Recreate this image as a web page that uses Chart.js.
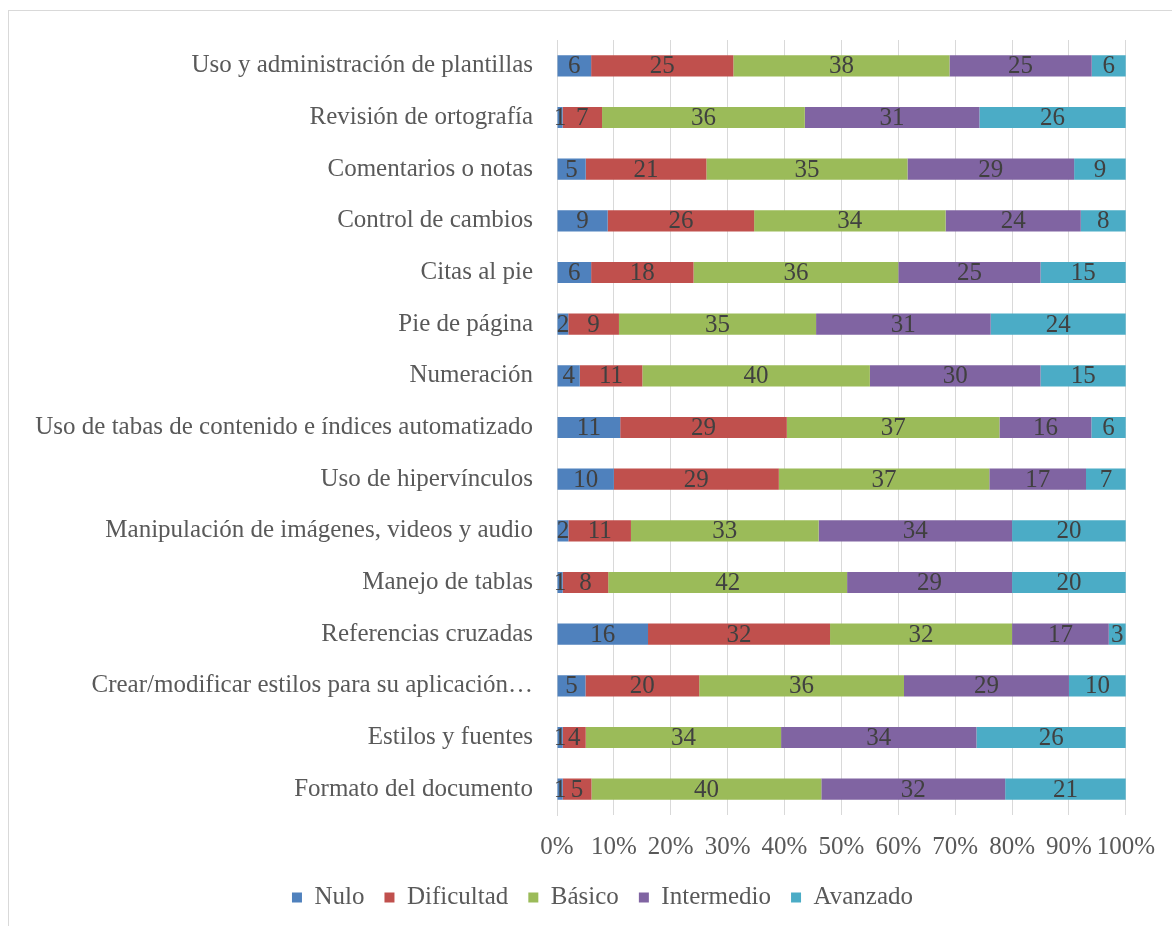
<!DOCTYPE html>
<html lang="es">
<head>
    <meta charset="UTF-8">
    <title>Nivel de manejo por función</title>
    <script src="https://cdn.jsdelivr.net/npm/chart.js"></script>
    <style>
        body { margin: 0; background: #fff; }
        .chart-container { position: relative; width: 1172px; height: 926px; }
    </style>
</head>
<body>
    <div class="chart-container">
        <canvas id="nivelChart"></canvas>
    </div>

    <script>
        // Categorías (de arriba a abajo)
        const categorias = [
            'Uso y administración de plantillas',
            'Revisión de ortografía',
            'Comentarios o notas',
            'Control de cambios',
            'Citas al pie',
            'Pie de página',
            'Numeración',
            'Uso de tabas de contenido e índices automatizado',
            'Uso de hipervínculos',
            'Manipulación de imágenes, videos y audio',
            'Manejo de tablas',
            'Referencias cruzadas',
            'Crear/modificar estilos para su aplicación…',
            'Estilos y fuentes',
            'Formato del documento'
        ];

        // Valores por nivel (mismo orden que las categorías)
        const nulo       = [6, 1, 5, 9, 6, 2, 4, 11, 10, 2, 1, 16, 5, 1, 1];
        const dificultad = [25, 7, 21, 26, 18, 9, 11, 29, 29, 11, 8, 32, 20, 4, 5];
        const basico     = [38, 36, 35, 34, 36, 35, 40, 37, 37, 33, 42, 32, 36, 34, 40];
        const intermedio = [25, 31, 29, 24, 25, 31, 30, 16, 17, 34, 29, 17, 29, 34, 32];
        const avanzado   = [6, 26, 9, 8, 15, 24, 15, 6, 7, 20, 20, 3, 10, 26, 21];

        const ticksX = [0, 10, 20, 30, 40, 50, 60, 70, 80, 90, 100];

        const series = [
            { label: 'Nulo', values: nulo, color: '#4F81BD' },
            { label: 'Dificultad', values: dificultad, color: '#C0504D' },
            { label: 'Básico', values: basico, color: '#9BBB59' },
            { label: 'Intermedio', values: intermedio, color: '#8064A2' },
            { label: 'Avanzado', values: avanzado, color: '#4BACC6' }
        ];

        // Apilado al 100%: cada fila se normaliza por su total
        const totales = categorias.map((_, i) => series.reduce((s, d) => s + d.values[i], 0));

        const datasets = series.map(s => ({
            label: s.label,
            data: s.values.map((v, i) => v / totales[i] * 100),
            raw: s.values,
            backgroundColor: s.color,
            borderWidth: 0,
            barPercentage: 0.41,
            categoryPercentage: 1
        }));

        const fuente = "'Liberation Serif', serif";
        const tam = 25;

        // Etiquetas de valor dentro de cada segmento
        const etiquetas = {
            id: 'etiquetas',
            afterDatasetsDraw(chart) {
                const ctx = chart.ctx;
                ctx.save();
                ctx.font = tam + 'px ' + fuente;
                ctx.fillStyle = '#404040';
                ctx.textAlign = 'center';
                ctx.textBaseline = 'middle';
                chart.data.datasets.forEach((ds, di) => {
                    const meta = chart.getDatasetMeta(di);
                    meta.data.forEach((bar, i) => {
                        ctx.fillText(ds.raw[i], (bar.x + bar.base) / 2, bar.y + 1);
                    });
                });
                ctx.restore();
            }
        };

        // Marco gris del área del gráfico
        const marco = {
            id: 'marco',
            beforeDraw(chart) {
                const ctx = chart.ctx;
                ctx.save();
                ctx.fillStyle = '#fff';
                ctx.fillRect(0, 0, chart.width, chart.height);
                ctx.strokeStyle = '#D9D9D9';
                ctx.lineWidth = 1;
                ctx.strokeRect(8.5, 10.5, chart.width + 10, chart.height + 10);
                ctx.restore();
            }
        };

        // Centrar la leyenda un poco más a la derecha, como en el original
        const leyendaDesplazada = {
            id: 'leyendaDesplazada',
            afterLayout(chart) {
                if (chart.legend) chart.legend.left += 76;
            }
        };

        const ctx = document.getElementById('nivelChart').getContext('2d');
        new Chart(ctx, {
            type: 'bar',
            data: { labels: categorias, datasets: datasets },
            plugins: [marco, etiquetas, leyendaDesplazada],
            options: {
                indexAxis: 'y',
                responsive: true,
                maintainAspectRatio: false,
                animation: false,
                layout: { padding: { top: 40, right: 43, bottom: 6, left: 0 } },
                scales: {
                    x: {
                        stacked: true,
                        min: 0,
                        max: 100,
                        afterBuildTicks(axis) {
                            axis.ticks = ticksX.map(v => ({ value: v }));
                        },
                        afterFit(axis) { axis.height = 50; },
                        grid: { color: '#D9D9D9', lineWidth: 1, drawTicks: false },
                        border: { display: false },
                        ticks: {
                            padding: 17,
                            maxRotation: 0,
                            autoSkip: false,
                            color: '#595959',
                            font: { family: fuente, size: tam },
                            callback: v => v + '%'
                        }
                    },
                    y: {
                        stacked: true,
                        afterFit(axis) { axis.width = 557; },
                        grid: { display: false },
                        border: { display: true, color: '#D9D9D9' },
                        ticks: {
                            padding: 16,
                            color: '#595959',
                            font: { family: fuente, size: tam }
                        }
                    }
                },
                plugins: {
                    legend: {
                        position: 'bottom',
                        labels: {
                            boxWidth: 10,
                            boxHeight: 10,
                            padding: 20,
                            color: '#595959',
                            font: { family: fuente, size: tam }
                        }
                    },
                    tooltip: { enabled: false }
                }
            }
        });
    </script>
</body>
</html>
